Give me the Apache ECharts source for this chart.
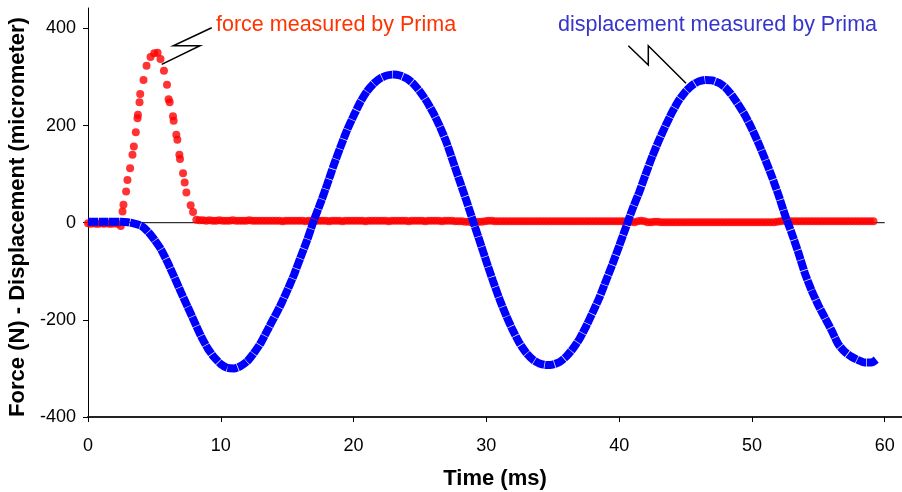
<!DOCTYPE html>
<html><head><meta charset="utf-8">
<script src="https://cdn.jsdelivr.net/npm/echarts@6/dist/echarts.min.js"></script>
<style>html,body{margin:0;padding:0;background:#fff}#c{width:902px;height:492px}</style>
</head><body><div id="c"></div>
<script>
// ---- data ----
const xTicks = [0, 10, 20, 30, 40, 50, 60];
const yTicks = [-400, -200, 0, 200, 400];

// force (N): baseline before the impact, sampled every 0.2 ms from 0
const forcePreStart = 0, forcePreStep = 0.2;
const forcePre = [-1, -2, -1, -2, -2, -1, -2, -1, -2, -2, -1, -2];

// force pulse (time ms / value N)
const pulseTime = [2.47, 2.6, 2.67, 2.87, 2.97, 3.17, 3.35, 3.45, 3.6, 3.73, 3.76, 3.88, 3.93, 4.18, 4.41, 4.71, 4.99, 5.24, 5.46, 5.72, 5.95, 6.07, 6.15, 6.4, 6.45, 6.65, 6.73, 6.88, 6.93, 7.16, 7.28, 7.41, 7.73, 7.91, 8.16];
const pulseForce = [-7, 23, 37, 64, 88, 112, 140, 157, 186, 215, 222, 248, 265, 294, 323, 341, 349, 350, 337, 313, 284, 254, 248, 219, 210, 181, 171, 140, 131, 102, 83, 62, 36, 22, 6];

// force after the impact, sampled every 0.25 ms from 8.4 ms
const forceFlatStart = 8.4, forceFlatStep = 0.25;
const forceFlat = [
  5,5,4,5,4,4,5,4,4,4,5,4,4,4,4,5,4,4,4,4,
  4,4,4,4,4,3,4,4,4,4,4,4,3,4,4,4,4,4,4,3,
  4,4,4,3,4,4,4,4,4,4,3,4,4,4,4,4,4,3,4,4,
  4,4,4,3,4,4,4,4,3,4,4,4,4,3,4,4,4,3,3,3,
  2,2,1,1,2,2,3,4,4,3,3,3,3,3,3,3,3,3,3,3,
  3,3,3,3,3,3,3,3,3,3,3,3,3,3,3,3,3,3,3,3,
  3,3,3,3,3,3,3,3,3,3,2,1,3,4,3,1,1,2,2,1,
  1,1,1,1,1,1,1,1,1,1,1,1,1,1,1,1,1,1,1,1,
  1,1,1,1,1,1,1,1,1,1,1,1,1,1,2,3,4,3,3,3,
  3,3,3,3,3,3,3,3,3,3,3,3,3,3,3,3,3,3,3,3,
  3,3,3,3
];

// displacement (micrometer), sampled every 0.5 ms from 0
const dispStart = 0, dispStep = 0.5;
const dispValues = [
  2, 2, 2, 2, 2, 2, 1, -2, -6, -18, -35, -55, -82, -112, -143, -173, -203, -233, -258, -277,
  -291, -299, -300, -295, -285, -268, -248, -222, -196, -170, -140, -108, -72, -36, 4,
  40, 78, 118, 155, 190, 220, 248, 270, 286, 297, 303, 305, 303, 297, 286, 270, 250, 226, 198, 165,
  125, 85, 45, 3, -38, -80, -120, -158, -192, -222, -248, -268, -282, -290, -293, -292, -287, -276,
  -260, -240, -214, -185, -155, -120, -85, -48, -10, 28, 62, 100, 137, 170, 200, 228, 252, 270,
  283, 291, 294, 293, 288, 278, 262, 242, 220, 193, 163, 130, 95, 57, 15, -22, -62, -105, -140,
  -170, -196, -222, -250, -266, -276, -283, -288, -288
];
const dispEndTime = 59.4, dispEndValue = -281;

// zero reference line
const zeroLineTime = [0, 60];

// ---- build series data ----
const forceData = [];
forcePre.forEach((v, i) => forceData.push([forcePreStart + i * forcePreStep, v]));
pulseTime.forEach((t, i) => forceData.push([t, pulseForce[i]]));
forceFlat.forEach((v, i) => forceData.push([forceFlatStart + i * forceFlatStep, v]));

const dispData = dispValues.map((v, i) => [dispStart + i * dispStep, v]);
dispData.push([dispEndTime, dispEndValue]);

const zeroData = zeroLineTime.map(t => [t, 0]);

const FONT = '"Liberation Sans", Arial, sans-serif';

const chart = echarts.init(document.getElementById('c'), null, {renderer: 'canvas'});
chart.setOption({
  animation: false,
  backgroundColor: '#fff',
  grid: {left: 88, right: 0, top: 8, bottom: 75, containLabel: false, outerBoundsMode: 'none'},
  xAxis: {
    type: 'value', min: 0, max: 61.3,
    axisLine: {show: true, onZero: false, lineStyle: {color: '#222', width: 2}},
    axisTick: {show: true, length: 5, customValues: xTicks, lineStyle: {color: '#000'}},
    axisLabel: {customValues: xTicks, fontSize: 18, color: '#000', fontFamily: FONT, margin: 20},
    splitLine: {show: false},
    name: 'Time (ms)', nameLocation: 'middle', nameGap: 51,
    nameTextStyle: {fontSize: 22, fontWeight: 'bold', color: '#000', fontFamily: FONT}
  },
  yAxis: {
    type: 'value', min: -400, max: 442,
    axisLine: {show: true, onZero: false, lineStyle: {color: '#000', width: 1}},
    axisTick: {show: true, length: 5, customValues: yTicks, lineStyle: {color: '#000'}},
    axisLabel: {customValues: yTicks, fontSize: 18, color: '#000', fontFamily: FONT, margin: 12},
    splitLine: {show: false},
    name: 'Force (N) - Displacement (micrometer)', nameLocation: 'middle', nameGap: 52,
    nameTextStyle: {fontSize: 22, fontWeight: 'bold', color: '#000', fontFamily: FONT, padding: [0, 9, 0, 0]}
  },
  series: [
    {
      name: 'zero', type: 'line', data: zeroData, showSymbol: false, silent: true, z: 1,
      lineStyle: {color: '#000', width: 1}
    },
    {
      name: 'force measured by Prima', type: 'scatter', data: forceData, symbolSize: 8, z: 2,
      itemStyle: {color: '#ff0000'}
    },
    {
      name: 'displacement measured by Prima', type: 'line', data: dispData, showSymbol: false, smooth: 0.2, z: 3,
      lineStyle: {color: '#0000ff', width: 8, type: [10, 0.6], cap: 'butt'}
    }
  ],
  graphic: [
    {type: 'text', x: 216, y: 25.5, z: 10,
     style: {text: 'force measured by Prima', fill: '#ff3300', font: '21.5px ' + FONT, verticalAlign: 'middle', align: 'left'}},
    {type: 'text', x: 877, y: 25.5, z: 10,
     style: {text: 'displacement measured by Prima', fill: '#3535cc', font: '21.5px ' + FONT, verticalAlign: 'middle', align: 'right'}},
    {type: 'polyline', z: 10, shape: {points: [[211.7, 27.7], [173.3, 45.7], [200, 45.7], [161.7, 64.3]]},
     style: {stroke: '#000', lineWidth: 1.5, fill: null}},
    {type: 'polyline', z: 10, shape: {points: [[628.3, 45.7], [648.3, 65], [648.3, 45.7], [686, 83.3]]},
     style: {stroke: '#000', lineWidth: 1.5, fill: null}}
  ]
});
</script>
</body></html>
